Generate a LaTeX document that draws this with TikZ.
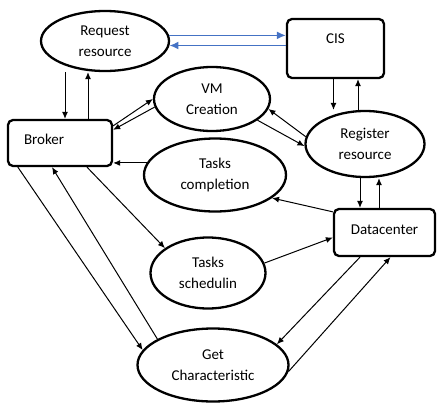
\documentclass[tikz,border=0pt]{standalone}
\usepackage{fontspec}
\setmainfont{Carlito}
\usetikzlibrary{shapes.geometric,arrows.meta}
\definecolor{cisblue}{RGB}{68,114,196}
\tikzset{
  proc/.style={ellipse,draw,line width=2.3pt,inner sep=0pt,align=center},
  unit/.style={rectangle,draw,rounded corners=5pt,line width=2.3pt,inner sep=0pt,
               text height=10pt,text depth=7pt},
  link/.style={->,line width=1pt},
  bluelink/.style={line width=1.6pt,draw=cisblue,-{Latex[length=9pt,width=8pt,fill=cisblue]}},
}

\begin{document}
\begin{tikzpicture}[x=1pt,y=-1pt,>={Latex[length=7pt,width=6pt]},
  font=\fontsize{15}{21}\selectfont]
\useasboundingbox (0,0) rectangle (437,407);
%processes
\node[proc,minimum width=128pt,minimum height=60pt] (req) at (105,41) {Request\\resource};
\node[proc,minimum width=116pt,minimum height=64pt] (vm) at (212,99) {VM\\Creation};
\node[proc,minimum width=119pt,minimum height=66pt] (reg) at (365,144) {Register\\resource};
\node[proc,minimum width=142pt,minimum height=73pt] (comp) at (215,175) {Tasks\\completion};
\node[proc,minimum width=115pt,minimum height=71pt] (sched) at (208,273) {Tasks\\schedulin};
\node[proc,minimum width=151pt,minimum height=73pt] (get) at (213,365) {Get\\Characteristic};
%units
\node[unit,minimum width=97pt,minimum height=59pt,text depth=20pt] (cis) at (335.5,48.5) {CIS};
\node[unit,minimum width=104pt,minimum height=46pt,text width=72pt,align=left] (broker) at (60,143) {Broker};
\node[unit,minimum width=101pt,minimum height=47pt] (dc) at (384.5,232.5) {Datacenter};
%request <-> cis
\draw[bluelink] (req.5) -- (req.5 -| cis.west);
\draw[bluelink] (req.-4 -| cis.west) -- (req.-4);
%request <-> broker
\draw[link] ([xshift=-40pt]req.south) -- ([xshift=-40pt]req.south |- broker.north);
\draw[link] ([xshift=-17pt]req.south |- broker.north) -- ([xshift=-17pt]req.south);
%broker <-> vm
\draw[link] ([yshift=-7pt]broker.north east) -- (vm.west);
\draw[link] (vm.188) -- ([yshift=-11pt]broker.north east);
%vm <-> register
\draw[link] (reg.173) -- (vm.-10);
\draw[link] (vm.-25) -- (reg.182);
%cis <-> register
\draw[link] ([xshift=-2pt]cis.south) -- ([xshift=-2pt]cis.south |- reg.north);
\draw[link] ([xshift=-7pt]reg.north) -- ([xshift=-7pt]reg.north |- cis.south);
%register <-> datacenter
\draw[link] ([xshift=-5pt]reg.south) -- ([xshift=-5pt]reg.south |- dc.north);
\draw[link] ([xshift=-5.5pt]dc.north) -- ([xshift=-5.5pt]dc.north |- reg.south);
%tasks
\draw[link] ([yshift=-4pt]dc.north west) -- (comp.-22);
\draw[link] (comp.170) -- (comp.170 -| broker.east);
\draw[link] ([xshift=27pt]broker.south) -- (sched.150);
\draw[link] (sched.10) -- ([yshift=-5pt]dc.west);
%get characteristic
\draw[link] ([xshift=11pt]broker.south west) -- (get.168);
\draw[link] (get.155) -- ([xshift=-8pt]broker.south);
\draw[link] ([xshift=-24.5pt]dc.south) -- (get.18);
\draw[link] (get.-5) -- ([xshift=6pt]dc.south);
\end{tikzpicture}
\end{document}
